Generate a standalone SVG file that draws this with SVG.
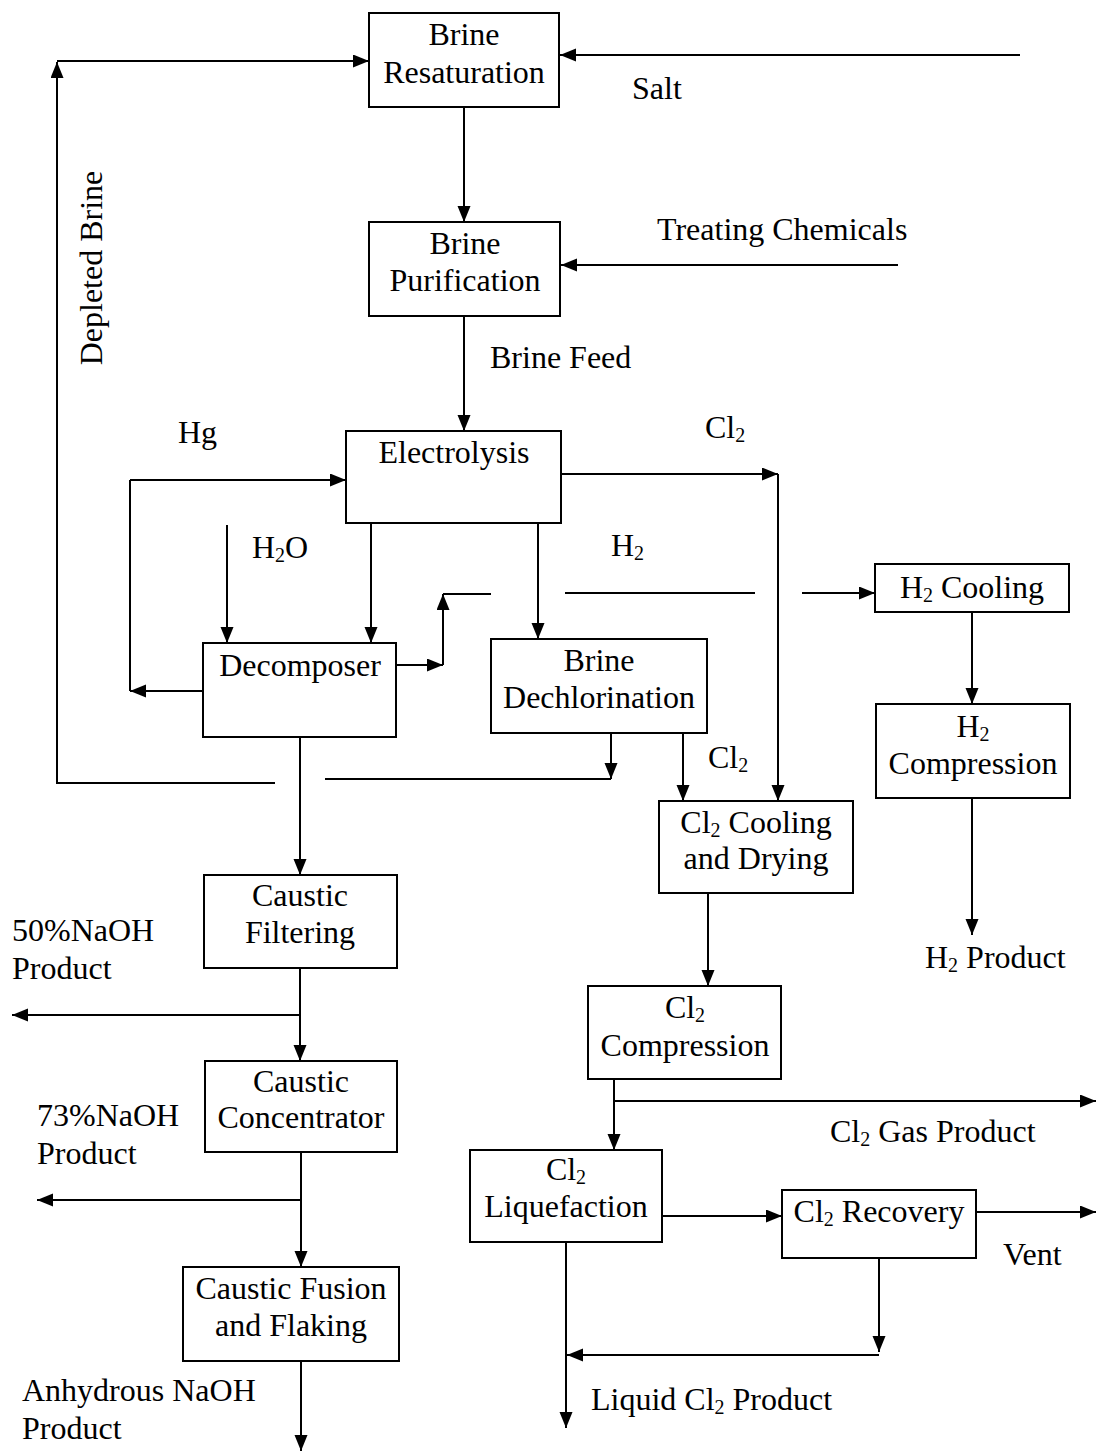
<svg xmlns="http://www.w3.org/2000/svg" width="1096" height="1453" viewBox="0 0 1096 1453">
  <style>
    .box { fill: #ffffff; stroke: #000000; stroke-width: 2; }
    .ln { fill: none; stroke: #000000; stroke-width: 2; }
    .arr { fill: none; stroke: #000000; stroke-width: 2; marker-end: url(#head); }
    text { font-family: "Liberation Serif", "Times New Roman", serif; font-size: 32px; fill: #000000; }
    .c { text-anchor: middle; }
    .sub { font-size: 20px; }
  </style>
  <defs>
    <marker id="head" markerUnits="userSpaceOnUse" markerWidth="17" markerHeight="14" refX="16" refY="6.5" orient="auto">
      <path d="M0,0 L16,6.5 L0,13 z" fill="#000000"/>
    </marker>
  </defs>

  <rect width="1096" height="1453" fill="#ffffff"/>

  <!-- Flow lines -->
  <g id="connectors">
    <!-- salt feed and resaturation -->
    <path class="arr" d="M1020,55 H560"/>
    <path class="arr" d="M464,107 V222"/>
    <path class="arr" d="M898,265 H561"/>
    <path class="arr" d="M464,316 V431"/>
    <!-- depleted brine return -->
    <path class="arr" d="M275,783 H57 V62"/>
    <path class="arr" d="M57,61 H369"/>
    <path class="ln" d="M325,779 H611"/>
    <path class="arr" d="M611,733 V779"/>
    <!-- mercury loop -->
    <path class="arr" d="M203,691 H130"/>
    <path class="ln" d="M130,691 V480"/>
    <path class="arr" d="M130,480 H346"/>
    <!-- water -->
    <path class="arr" d="M227,525 V643"/>
    <path class="arr" d="M371,523 V643"/>
    <!-- hydrogen -->
    <path class="arr" d="M396,665 H443"/>
    <path class="arr" d="M443,665 V594"/>
    <path class="ln" d="M443,594 H491"/>
    <path class="ln" d="M565,593 H755"/>
    <path class="arr" d="M802,593 H875"/>
    <path class="arr" d="M972,612 V704"/>
    <path class="arr" d="M972,798 V935"/>
    <!-- chlorine -->
    <path class="arr" d="M538,523 V639"/>
    <path class="arr" d="M561,474 H778"/>
    <path class="arr" d="M778,474 V801"/>
    <path class="arr" d="M683,733 V801"/>
    <path class="arr" d="M708,893 V986"/>
    <path class="arr" d="M614,1079 V1150"/>
    <path class="arr" d="M614,1101 H1096"/>
    <path class="arr" d="M662,1216 H782"/>
    <path class="arr" d="M976,1212 H1096"/>
    <path class="arr" d="M879,1258 V1352"/>
    <path class="arr" d="M879,1355 H567"/>
    <path class="arr" d="M566,1242 V1428"/>
    <!-- caustic -->
    <path class="arr" d="M300,737 V875"/>
    <path class="arr" d="M300,968 V1061"/>
    <path class="arr" d="M300,1015 H12"/>
    <path class="arr" d="M301,1152 V1267"/>
    <path class="arr" d="M301,1200 H37"/>
    <path class="arr" d="M301,1361 V1451"/>
  </g>

  <!-- Process units -->
  <g id="brine-resaturation">
    <rect class="box" x="369" y="13" width="190" height="94"/>
    <text class="c" x="464" y="45">Brine</text>
    <text class="c" x="464" y="83">Resaturation</text>
  </g>
  <g id="brine-purification">
    <rect class="box" x="369" y="222" width="191" height="94"/>
    <text class="c" x="465" y="254">Brine</text>
    <text class="c" x="465" y="291">Purification</text>
  </g>
  <g id="electrolysis">
    <rect class="box" x="346" y="431" width="215" height="92"/>
    <text class="c" x="454" y="463">Electrolysis</text>
  </g>
  <g id="decomposer">
    <rect class="box" x="203" y="643" width="193" height="94"/>
    <text class="c" x="300" y="676">Decomposer</text>
  </g>
  <g id="brine-dechlorination">
    <rect class="box" x="491" y="639" width="216" height="94"/>
    <text class="c" x="599" y="671">Brine</text>
    <text class="c" x="599" y="708">Dechlorination</text>
  </g>
  <g id="h2-cooling">
    <rect class="box" x="875" y="564" width="194" height="48"/>
    <text class="c" x="972" y="598">H<tspan class="sub" dy="4">2</tspan><tspan dy="-4"> Cooling</tspan></text>
  </g>
  <g id="h2-compression">
    <rect class="box" x="876" y="704" width="194" height="94"/>
    <text class="c" x="973" y="737">H<tspan class="sub" dy="4">2</tspan></text>
    <text class="c" x="973" y="774">Compression</text>
  </g>
  <g id="cl2-cooling-drying">
    <rect class="box" x="659" y="801" width="194" height="92"/>
    <text class="c" x="756" y="833">Cl<tspan class="sub" dy="4">2</tspan><tspan dy="-4"> Cooling</tspan></text>
    <text class="c" x="756" y="869">and Drying</text>
  </g>
  <g id="cl2-compression">
    <rect class="box" x="588" y="986" width="193" height="93"/>
    <text class="c" x="685" y="1018">Cl<tspan class="sub" dy="4">2</tspan></text>
    <text class="c" x="685" y="1056">Compression</text>
  </g>
  <g id="cl2-liquefaction">
    <rect class="box" x="470" y="1150" width="192" height="92"/>
    <text class="c" x="566" y="1180">Cl<tspan class="sub" dy="4">2</tspan></text>
    <text class="c" x="566" y="1217">Liquefaction</text>
  </g>
  <g id="cl2-recovery">
    <rect class="box" x="782" y="1190" width="194" height="68"/>
    <text class="c" x="879" y="1222">Cl<tspan class="sub" dy="4">2</tspan><tspan dy="-4"> Recovery</tspan></text>
  </g>
  <g id="caustic-filtering">
    <rect class="box" x="204" y="875" width="193" height="93"/>
    <text class="c" x="300" y="906">Caustic</text>
    <text class="c" x="300" y="943">Filtering</text>
  </g>
  <g id="caustic-concentrator">
    <rect class="box" x="205" y="1061" width="192" height="91"/>
    <text class="c" x="301" y="1092">Caustic</text>
    <text class="c" x="301" y="1128">Concentrator</text>
  </g>
  <g id="caustic-fusion-flaking">
    <rect class="box" x="183" y="1267" width="216" height="94"/>
    <text class="c" x="291" y="1299">Caustic Fusion</text>
    <text class="c" x="291" y="1336">and Flaking</text>
  </g>

  <!-- Stream labels -->
  <g id="labels">
    <text x="632" y="99">Salt</text>
    <text x="657" y="240">Treating Chemicals</text>
    <text x="490" y="368">Brine Feed</text>
    <text transform="translate(102,268) rotate(-90)" class="c">Depleted Brine</text>
    <text x="178" y="443">Hg</text>
    <text x="705" y="438">Cl<tspan class="sub" dy="4">2</tspan></text>
    <text x="252" y="558">H<tspan class="sub" dy="4">2</tspan><tspan dy="-4">O</tspan></text>
    <text x="611" y="556">H<tspan class="sub" dy="4">2</tspan></text>
    <text x="708" y="768">Cl<tspan class="sub" dy="4">2</tspan></text>
    <text x="925" y="968">H<tspan class="sub" dy="4">2</tspan><tspan dy="-4"> Product</tspan></text>
    <text x="12" y="941">50%NaOH</text>
    <text x="12" y="979">Product</text>
    <text x="37" y="1126">73%NaOH</text>
    <text x="37" y="1164">Product</text>
    <text x="830" y="1142">Cl<tspan class="sub" dy="4">2</tspan><tspan dy="-4"> Gas Product</tspan></text>
    <text x="1003" y="1265">Vent</text>
    <text x="22" y="1401">Anhydrous NaOH</text>
    <text x="22" y="1439">Product</text>
    <text x="591" y="1410">Liquid Cl<tspan class="sub" dy="4">2</tspan><tspan dy="-4"> Product</tspan></text>
  </g>
</svg>
